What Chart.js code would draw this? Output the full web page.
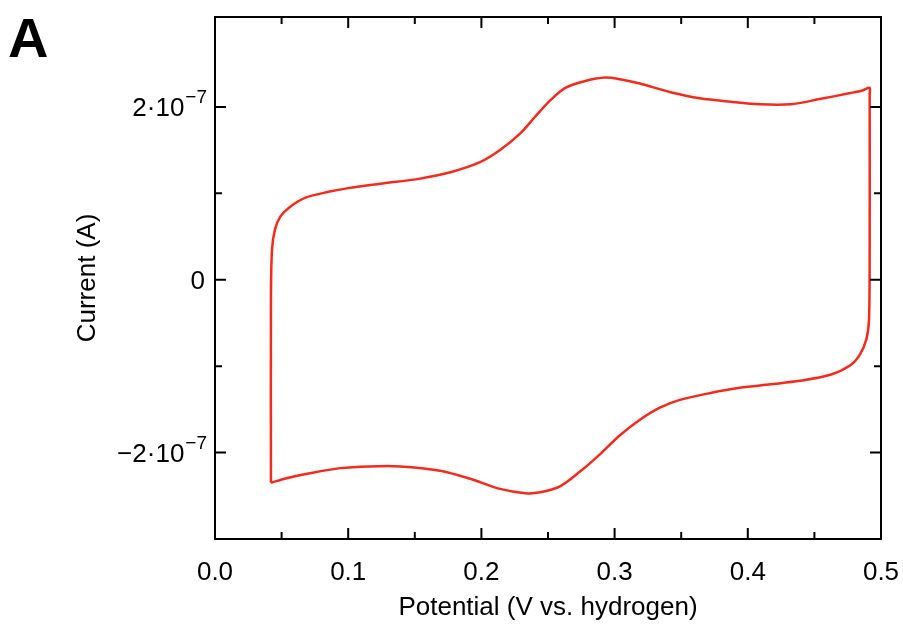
<!DOCTYPE html>
<html>
<head>
<meta charset="utf-8">
<script src="https://cdn.jsdelivr.net/npm/chart.js@4.4.0/dist/chart.umd.min.js"></script>
<style>
  html, body { margin: 0; padding: 0; background: #fff; }
  #wrap { width: 903px; height: 630px; }
</style>
</head>
<body>
<div id="wrap"><canvas id="cv"></canvas></div>
<script>
// forward (anodic) scan, potential in V and current in A
const forwardPotential = [0.042, 0.042, 0.0428, 0.045, 0.049, 0.056, 0.068, 0.086, 0.100, 0.124, 0.154, 0.176,
  0.199, 0.214, 0.229, 0.240, 0.252, 0.263, 0.278, 0.293, 0.304, 0.319, 0.342, 0.364, 0.387, 0.409, 0.432,
  0.454, 0.477, 0.486, 0.4915];
const forwardCurrent = [-2.35e-7, -0.23e-7, 0.35e-7, 0.58e-7, 0.73e-7, 0.84e-7, 0.95e-7, 1.02e-7, 1.06e-7,
  1.11e-7, 1.17e-7, 1.24e-7, 1.36e-7, 1.50e-7, 1.69e-7, 1.88e-7, 2.08e-7, 2.22e-7, 2.30e-7, 2.34e-7, 2.32e-7,
  2.27e-7, 2.17e-7, 2.10e-7, 2.06e-7, 2.03e-7, 2.03e-7, 2.09e-7, 2.16e-7, 2.19e-7, 2.22e-7];

// reverse (cathodic) scan
const reversePotential = [0.4915, 0.4915, 0.491, 0.489, 0.484, 0.477, 0.462, 0.439, 0.417, 0.394, 0.372, 0.349,
  0.334, 0.319, 0.304, 0.289, 0.274, 0.259, 0.244, 0.233, 0.214, 0.191, 0.169, 0.139, 0.116, 0.094, 0.071,
  0.053, 0.042];
const reverseCurrent = [2.15e-7, 0.35e-7, -0.46e-7, -0.69e-7, -0.87e-7, -0.99e-7, -1.10e-7, -1.17e-7, -1.21e-7,
  -1.25e-7, -1.31e-7, -1.39e-7, -1.48e-7, -1.62e-7, -1.80e-7, -2.02e-7, -2.22e-7, -2.39e-7, -2.46e-7, -2.47e-7,
  -2.42e-7, -2.30e-7, -2.21e-7, -2.16e-7, -2.16e-7, -2.18e-7, -2.24e-7, -2.30e-7, -2.35e-7];

const xMajor = [0, 0.1, 0.2, 0.3, 0.4, 0.5];
const xMinor = [0.05, 0.15, 0.25, 0.35, 0.45];
const yMajor = [-2e-7, 0, 2e-7];
const yMinor = [-1e-7, 1e-7];
// y tick labels: [mantissa part, exponent]
const yLabels = { '-2': ['\u22122\u00b710', '\u22127'], '0': ['0', ''], '2': ['2\u00b710', '\u22127'] };

const loop = [];
forwardPotential.forEach((v, i) => loop.push({ x: v, y: forwardCurrent[i] }));
reversePotential.forEach((v, i) => loop.push({ x: v, y: reverseCurrent[i] }));

const FONT = "'Liberation Sans', Arial, Helvetica, sans-serif";

// box frame with inward ticks, y labels with superscripts, panel letter
const framePlugin = {
  id: 'frame',
  afterDraw(chart) {
    const { ctx, chartArea: a, scales } = chart;
    ctx.save();
    ctx.strokeStyle = '#000';
    ctx.lineWidth = 2;
    ctx.strokeRect(a.left, a.top, a.right - a.left, a.bottom - a.top);
    ctx.beginPath();
    const xt = (vals, len) => vals.forEach(v => {
      const px = scales.x.getPixelForValue(v);
      ctx.moveTo(px, a.bottom); ctx.lineTo(px, a.bottom - len);
      ctx.moveTo(px, a.top); ctx.lineTo(px, a.top + len);
    });
    const yt = (vals, len) => vals.forEach(v => {
      const py = scales.y.getPixelForValue(v);
      ctx.moveTo(a.left, py); ctx.lineTo(a.left + len, py);
      ctx.moveTo(a.right, py); ctx.lineTo(a.right - len, py);
    });
    xt(xMajor, 11); xt(xMinor, 7);
    yt(yMajor, 11); yt(yMinor, 7);
    ctx.stroke();

    ctx.fillStyle = '#000';
    ctx.textBaseline = 'alphabetic';
    scales.y.ticks.forEach(t => {
      const lab = yLabels[String(Math.round(t.value / 1e-7))];
      if (!lab) return;
      const py = scales.y.getPixelForValue(t.value);
      let right = a.left - 8;
      ctx.textAlign = 'right';
      if (lab[1]) {
        ctx.font = "19px " + FONT;
        ctx.fillText(lab[1], right, py - 4);
        right -= ctx.measureText(lab[1]).width + 1;
      } else {
        right = a.left - 10;
      }
      ctx.font = "26px " + FONT;
      ctx.fillText(lab[0], right, py + 9.5);
    });

    ctx.textAlign = 'left';
    ctx.font = "bold 56px " + FONT;
    ctx.fillText('A', 8, 57);
    ctx.restore();
  }
};

new Chart(document.getElementById('cv'), {
  type: 'scatter',
  data: {
    datasets: [{
      data: loop,
      showLine: true,
      borderColor: '#f42a1c',
      borderWidth: 2.5,
      pointRadius: 0,
      tension: 0.3,
      fill: false
    }]
  },
  options: {
    responsive: true,
    maintainAspectRatio: false,
    animation: false,
    layout: { padding: { left: 0, right: 22, top: 17, bottom: 0 } },
    plugins: { legend: { display: false }, tooltip: { enabled: false } },
    scales: {
      x: {
        min: 0, max: 0.5,
        grid: { display: false },
        border: { display: false },
        ticks: {
          stepSize: 0.1, padding: 10, color: '#000',
          font: { family: FONT, size: 26 },
          callback: v => v.toFixed(1)
        },
        title: {
          display: true, text: 'Potential (V vs. hydrogen)', color: '#000',
          font: { family: FONT, size: 26 }, padding: { bottom: 7, top: 0 }
        },
        afterFit: s => { s.height = 91; s.paddingLeft = 0; s.paddingRight = 0; }
      },
      y: {
        min: -3e-7, max: 3.04e-7,
        grid: { display: false },
        border: { display: false },
        ticks: { display: false, stepSize: 1e-7 },
        title: {
          display: true, text: 'Current (A)', color: '#000',
          font: { family: FONT, size: 26 }, padding: { top: 72, bottom: 0 }
        },
        afterFit: s => { s.width = 215; }
      }
    }
  },
  plugins: [framePlugin]
});
</script>
</body>
</html>
